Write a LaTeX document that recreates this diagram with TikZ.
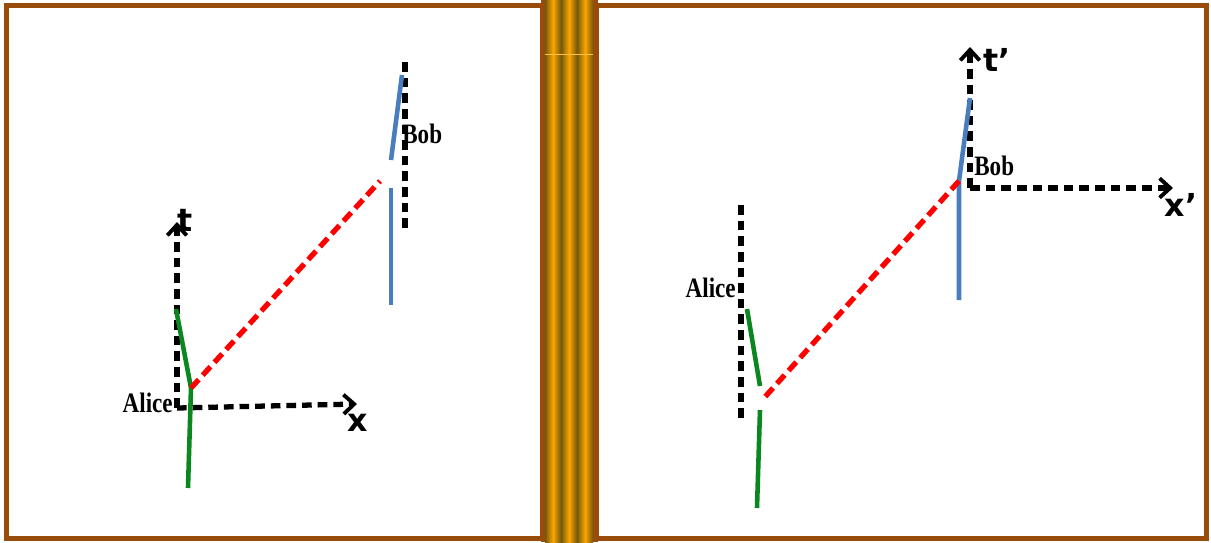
\documentclass[tikz,border=0pt]{standalone}
\usepackage{fontspec}
\usepackage{graphicx}
\setmainfont{Liberation Serif}
\setsansfont{DejaVu Sans}
\usetikzlibrary{arrows.meta}
\definecolor{frame}{RGB}{153,76,10}
\definecolor{gold}{RGB}{252,166,0}
\definecolor{golddark}{RGB}{118,88,12}
\definecolor{worldA}{RGB}{10,135,30}
\definecolor{worldB}{RGB}{72,125,190}
\newcommand{\who}[1]{\scalebox{.82}[1]{\bfseries #1}}
\begin{document}
\begin{tikzpicture}[x=0.02cm, y=-0.02cm,
    panel/.style={draw=frame, line width=2.9pt, fill=white},
    axis/.style={black, line width=3pt, dash pattern=on 5.5pt off 3.4pt,
                 -{Straight Barb[length=6pt,width=11pt,line width=2.2pt]}},
    rest/.style={black, line width=3pt, dash pattern=on 5.5pt off 3.4pt},
    signal/.style={red, line width=3pt, dash pattern=on 6.5pt off 3.4pt},
    alice/.style={worldA, line width=2.6pt},
    bob/.style={worldB, line width=2.6pt},
    who/.style={inner sep=0pt, font=\fontsize{16}{16}\selectfont},
    lab/.style={inner sep=0pt, font=\sffamily\bfseries\fontsize{18}{18}\selectfont}
]
    \useasboundingbox (0,0) rectangle (1211,542);

    % the two pages and the spine
    \draw[panel] (6.5,5.5) rectangle (543,538.5);
    \draw[panel] (596,5.5) rectangle (1206.5,538.5);
    \fill[frame] (541,0) rectangle (598,542);
    \foreach \i in {0,2,4} {
        \shade[left color=golddark, right color=gold] (545+8*\i,0) rectangle (553+8*\i,542);
        \shade[left color=gold, right color=golddark] (553+8*\i,0) rectangle (561+8*\i,542);
    }
    \draw[gold!70!white, line width=0.4pt] (545,54) -- (593,54);

    % left page: Alice's frame
    \coordinate (o) at (177,408);
    \coordinate (tend) at (177,222);
    \coordinate (xend) at (357,404);
    \draw[axis] (o) -- (tend);
    \draw[axis] (o) -- (xend);
    \node[lab] (t) at (185,220) {t};
    \node[lab] (x) at (358,423) {x};
    \node[who, anchor=east] (alice1) at (173,403) {\who{Alice}};
    \node[who, anchor=west] (bob1) at (402,134) {\who{Bob}};

    \coordinate (a1) at (176,309);
    \coordinate (a2) at (191,388);
    \coordinate (a3) at (188,488);
    \draw[alice] (a1) -- (a2) -- (a3);
    \coordinate (s1) at (380,181);
    \draw[signal] (a2) -- (s1);
    \coordinate (bt) at (405,62);
    \coordinate (bb) at (405,228);
    \draw[rest] (bt) -- (bb);
    \coordinate (b1) at (402,75);
    \coordinate (b2) at (391,160);
    \coordinate (b3) at (391,188);
    \coordinate (b4) at (391,305);
    \draw[bob] (b1) -- (b2);
    \draw[bob] (b3) -- (b4);

    % right page: Bob's frame
    \coordinate (o') at (970,188);
    \coordinate (tend') at (970,47);
    \coordinate (xend') at (1173,188);
    \draw[axis] (o') -- (tend');
    \draw[axis] (o') -- (xend');
    \node[lab] (t') at (997,60) {t’};
    \node[lab] (x') at (1181,205) {x’};
    \node[who, anchor=west] (bob2) at (974,166) {\who{Bob}};
    \node[who, anchor=east] (alice2) at (736,288) {\who{Alice}};

    \coordinate (c1) at (970,98);
    \coordinate (c2) at (959,181);
    \coordinate (c3) at (959,300);
    \draw[bob] (c1) -- (c2) -- (c3);
    \coordinate (s2) at (764,398);
    \draw[signal] (c2) -- (s2);
    \coordinate (at) at (741,205);
    \coordinate (ab) at (741,418);
    \draw[rest] (at) -- (ab);
    \coordinate (d1) at (747,309);
    \coordinate (d2) at (760,386);
    \coordinate (d3) at (760,410);
    \coordinate (d4) at (757,508);
    \draw[alice] (d1) -- (d2);
    \draw[alice] (d3) -- (d4);
\end{tikzpicture}
\end{document}
